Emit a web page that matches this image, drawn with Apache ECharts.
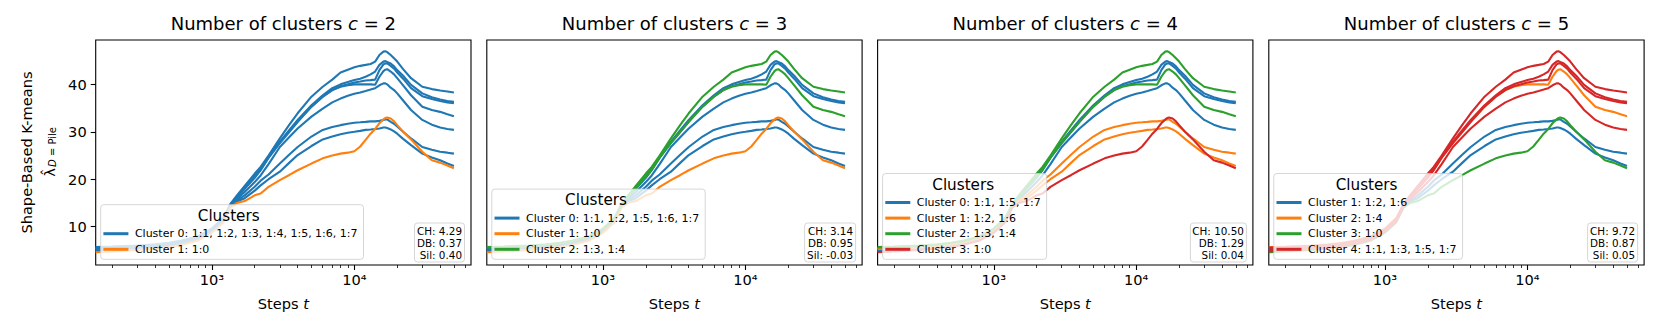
<!DOCTYPE html>
<html>
<head>
<meta charset="utf-8">
<script src="https://cdn.jsdelivr.net/npm/echarts@6/dist/echarts.min.js"></script>
<style>
html,body{margin:0;padding:0;background:#fff;}
#chart{width:1661px;height:332px;}
</style>
</head>
<body>
<div id="chart"></div>
<script>
// ---------------- data ----------------
const steps = [153, 200, 300, 400, 500, 600, 800, 1000, 1200, 1350,
  1500, 1700, 2000, 2200, 2500, 3000, 3500, 4000, 5000, 6000,
  7000, 8000, 9000, 10000, 11000, 12000, 13000, 14000, 15000, 16000,
  16500, 17000, 18000, 19000, 20000, 22000, 25000, 30000, 35000, 40000,
  45000, 50000];

const ratio_1_0 = [4.6, 4.8, 5.1, 5.4, 5.7, 6.1, 7.1, 8.7, 10.9, 14.0,
  15.0, 15.4, 16.6, 17.0, 18.4, 19.8, 20.9, 21.9, 23.3, 24.4,
  25.0, 25.4, 25.6, 25.9, 26.9, 28.3, 29.6, 30.6, 31.8, 32.6,
  32.9, 33.0, 32.8, 32.2, 31.4, 30.0, 28.4, 25.8, 24.0, 23.5,
  22.9, 22.3];
const ratio_1_1 = [4.8, 5.0, 5.3, 5.6, 6.0, 6.4, 7.4, 9.0, 11.2, 14.4,
  16.3, 18.3, 20.7, 22.2, 24.8, 27.9, 30.4, 32.5, 35.6, 37.7,
  39.2, 40.0, 40.5, 40.9, 41.2, 41.6, 42.1, 42.7, 44.1, 44.8,
  44.9, 44.7, 44.4, 43.8, 43.0, 41.8, 39.9, 38.1, 37.3, 36.8,
  36.5, 36.3];
const ratio_1_2 = [5.4, 5.5, 5.7, 6.0, 6.3, 6.7, 7.7, 9.3, 11.4, 14.4,
  15.5, 16.6, 18.4, 19.7, 21.0, 23.3, 25.2, 26.8, 29.0, 30.4,
  31.0, 31.4, 31.7, 31.9, 32.0, 32.1, 32.2, 32.2, 32.3, 32.5,
  32.6, 32.6, 32.1, 31.7, 31.1, 30.0, 28.6, 26.8, 26.2, 25.8,
  25.6, 25.4];
const ratio_1_3 = [5.6, 5.7, 5.9, 6.2, 6.5, 6.9, 7.9, 9.5, 11.7, 14.8,
  16.6, 18.6, 21.2, 22.6, 25.0, 28.6, 31.5, 33.9, 37.4, 39.5,
  41.0, 42.5, 43.1, 43.6, 43.9, 44.1, 44.3, 44.8, 46.2, 46.9,
  47.0, 46.8, 46.2, 45.5, 44.8, 43.2, 41.3, 39.5, 39.0, 38.7,
  38.5, 38.3];
const ratio_1_4 = [5.7, 5.8, 6.0, 6.3, 6.6, 7.0, 8.0, 9.6, 11.8, 14.7,
  16.2, 18.1, 20.5, 22.0, 24.6, 27.7, 30.1, 32.1, 35.3, 37.4,
  38.8, 39.5, 39.8, 40.0, 40.0, 40.0, 40.0, 39.9, 41.6, 42.8,
  43.1, 43.2, 42.7, 42.1, 41.3, 39.8, 37.7, 35.3, 34.6, 34.2,
  33.7, 33.3];
const ratio_1_5 = [5.2, 5.3, 5.5, 5.8, 6.1, 6.5, 7.5, 9.1, 11.3, 14.4,
  16.1, 18.0, 20.3, 21.9, 24.5, 27.6, 30.0, 32.1, 35.3, 37.4,
  38.8, 39.6, 40.0, 40.4, 40.6, 40.8, 40.9, 41.0, 43.0, 44.2,
  44.4, 44.4, 43.9, 43.3, 42.5, 41.2, 39.2, 37.5, 36.9, 36.5,
  36.2, 36.0];
const ratio_1_6 = [5.3, 5.4, 5.6, 5.9, 6.2, 6.6, 7.6, 9.2, 11.3, 14.3,
  15.3, 16.0, 17.6, 18.7, 20.0, 21.6, 23.5, 25.1, 27.0, 28.4,
  29.0, 29.5, 29.8, 30.0, 30.2, 30.4, 30.5, 30.6, 30.7, 30.9,
  30.9, 30.8, 30.5, 30.1, 29.6, 28.5, 27.2, 25.4, 24.6, 24.0,
  23.3, 22.8];
const ratio_1_7 = [5.0, 5.1, 5.3, 5.6, 5.9, 6.3, 7.3, 8.9, 11.1, 14.3,
  15.8, 17.3, 19.4, 20.8, 23.2, 26.8, 28.9, 30.7, 33.2, 34.9,
  36.2, 37.0, 37.6, 38.0, 38.3, 38.6, 38.9, 39.2, 39.8, 40.2,
  40.2, 40.0, 39.3, 38.8, 38.1, 36.6, 34.6, 32.5, 31.5, 30.9,
  30.6, 30.4];

const runs = {'1:0': ratio_1_0, '1:1': ratio_1_1, '1:2': ratio_1_2, '1:3': ratio_1_3,
  '1:4': ratio_1_4, '1:5': ratio_1_5, '1:6': ratio_1_6, '1:7': ratio_1_7};

const clusterCounts = [2, 3, 4, 5];
const clusterLabels = [
  ['Cluster 0: 1:1, 1:2, 1:3, 1:4, 1:5, 1:6, 1:7', 'Cluster 1: 1:0'],
  ['Cluster 0: 1:1, 1:2, 1:5, 1:6, 1:7', 'Cluster 1: 1:0', 'Cluster 2: 1:3, 1:4'],
  ['Cluster 0: 1:1, 1:5, 1:7', 'Cluster 1: 1:2, 1:6', 'Cluster 2: 1:3, 1:4', 'Cluster 3: 1:0'],
  ['Cluster 1: 1:2, 1:6', 'Cluster 2: 1:4', 'Cluster 3: 1:0', 'Cluster 4: 1:1, 1:3, 1:5, 1:7']
];
const clusterMembers = [
  [['1:1', '1:2', '1:3', '1:4', '1:5', '1:6', '1:7'], ['1:0']],
  [['1:1', '1:2', '1:5', '1:6', '1:7'], ['1:0'], ['1:3', '1:4']],
  [['1:1', '1:5', '1:7'], ['1:2', '1:6'], ['1:3', '1:4'], ['1:0']],
  [['1:2', '1:6'], ['1:4'], ['1:0'], ['1:1', '1:3', '1:5', '1:7']]
];
const statsText = [
  ['CH: 4.29', 'DB: 0.37', 'Sil: 0.40'],
  ['CH: 3.14', 'DB: 0.95', 'Sil: -0.03'],
  ['CH: 10.50', 'DB: 1.29', 'Sil: 0.04'],
  ['CH: 9.72', 'DB: 0.87', 'Sil: 0.05']
];
const xMajorTicks = [1000, 10000];
const xMinorTicks = [200, 300, 400, 500, 600, 700, 800, 900, 2000, 3000, 4000, 5000, 6000, 7000, 8000, 9000,
  20000, 30000, 40000, 50000, 60000];
const yTicks = [10, 20, 30, 40];

// ---------------- layout / style ----------------
const palette = ['#1f77b4', '#ff7f0e', '#2ca02c', '#d62728'];
const FONT = 'DejaVu Sans';
const X_MIN = 153, X_MAX = 65900;
const Y_MIN = 1.92, Y_MAX = 49.35;
const GRID_LEFT = [95.7, 486.8, 877.6, 1268.8];
const GRID_W = 375.3, GRID_T = 40, GRID_H = 225;
const SUP = {'0':'⁰','1':'¹','2':'²','3':'³','4':'⁴','5':'⁵','6':'⁶','7':'⁷','8':'⁸','9':'⁹'};
function logLabel(v) {
  const e = String(Math.round(Math.log10(v)));
  return '10' + e.split('').map(c => SUP[c]).join('');
}

const grid = [], xAxis = [], yAxis = [], series = [], title = [], legend = [], graphicEls = [];

for (let p = 0; p < 4; p++) {
  const left = GRID_LEFT[p];
  grid.push({left: left, top: GRID_T, width: GRID_W, height: GRID_H, show: true,
    borderColor: '#000', borderWidth: 1.1, backgroundColor: 'transparent'});

  xAxis.push({
    type: 'log', logBase: 10, gridIndex: p, min: X_MIN, max: X_MAX, position: 'bottom',
    axisLine: {show: false, onZero: false},
    splitLine: {show: false}, minorTick: {show: false}, minorSplitLine: {show: false},
    axisTick: {show: true, length: 5, lineStyle: {color: '#000', width: 1.1}, customValues: xMajorTicks},
    axisLabel: {show: true, customValues: xMajorTicks, formatter: logLabel, margin: 7,
      fontSize: 14.6, color: '#000', fontFamily: FONT},
    name: '{n|Steps }{i|t}', nameLocation: 'middle', nameGap: 31,
    nameTextStyle: {color: '#000', fontSize: 14.6, fontFamily: FONT,
      rich: {n: {fontSize: 14.6, fontFamily: FONT, color: '#000'},
             i: {fontSize: 14.6, fontFamily: FONT, fontStyle: 'italic', color: '#000'}}}
  });
  xAxis.push({
    type: 'log', logBase: 10, gridIndex: p, min: X_MIN, max: X_MAX, position: 'bottom',
    axisLine: {show: false, onZero: false}, axisLabel: {show: false},
    splitLine: {show: false}, minorTick: {show: false},
    axisTick: {show: true, length: 3, lineStyle: {color: '#000', width: 0.8}, customValues: xMinorTicks}
  });
  yAxis.push({
    type: 'value', gridIndex: p, min: Y_MIN, max: Y_MAX,
    axisLine: {show: false, onZero: false}, splitLine: {show: false},
    axisTick: {show: p === 0, length: 5, lineStyle: {color: '#000', width: 1.1}, customValues: yTicks},
    axisLabel: {show: p === 0, customValues: yTicks, margin: 9, fontSize: 14.6, color: '#000', fontFamily: FONT}
  });

  clusterMembers[p].forEach((members, k) => {
    members.forEach(m => {
      series.push({
        type: 'line', name: clusterLabels[p][k], xAxisIndex: 2 * p, yAxisIndex: p,
        data: steps.map((s, i) => [s, runs[m][i]]),
        showSymbol: false, symbol: 'none', silent: true, animation: false,
        lineStyle: {color: palette[k], width: 2.1}, itemStyle: {color: palette[k]},
        emphasis: {disabled: true}, z: 2
      });
    });
  });

  title.push({
    text: '{n|Number of clusters }{i|c}{n| = ' + clusterCounts[p] + '}',
    left: left + GRID_W / 2, textAlign: 'center', top: 12, padding: 0,
    textStyle: {fontWeight: 'normal', rich: {
      n: {fontSize: 18, fontFamily: FONT, fontWeight: 'normal', color: '#000', lineHeight: 22},
      i: {fontSize: 18, fontFamily: FONT, fontWeight: 'normal', fontStyle: 'italic', color: '#000', lineHeight: 22}}}
  });
  const textRight = left + GRID_W - 9;
  title.push({
    text: statsText[p].join('\n'), left: textRight - 2.5, textAlign: 'right', top: 222.5,
    padding: [2, 2.5, 2, 2.5], backgroundColor: 'rgba(255,255,255,0.8)',
    borderColor: 'rgba(204,204,204,0.8)', borderWidth: 1, borderRadius: 3,
    textStyle: {fontSize: 10.4, lineHeight: 12, fontWeight: 'normal', color: '#000', fontFamily: FONT}
  });

  const n = clusterLabels[p].length;
  legend.push({
    orient: 'vertical', left: left + 5, bottom: 72.7, selectedMode: false,
    data: clusterLabels[p].map((nm, k) => ({name: nm,
      itemStyle: {color: palette[k], borderColor: palette[k], borderWidth: 0}})),
    icon: 'rect', itemWidth: 25, itemHeight: 3, itemGap: 2.6,
    padding: [22.5, 6, 3.5, 2.7],
    backgroundColor: 'rgba(255,255,255,0.8)', borderColor: 'rgba(204,204,204,0.8)',
    borderWidth: 1, borderRadius: 3,
    textStyle: {fontSize: 11, lineHeight: 13, color: '#000', fontFamily: FONT, padding: [0, 0, 0, 1.5]}
  });
  const boxH = 22.5 + 3.5 + 13 * n + 2.6 * (n - 1);
  const boxTop = 259.3 - boxH;
  graphicEls.push({type: 'text', z: 100, x: [228.7, 596.0, 963.2, 1366.6][p], y: boxTop + 11,
    style: {text: 'Clusters', font: '15.2px "DejaVu Sans"', fill: '#000',
      textAlign: 'center', textVerticalAlign: 'middle'}});
}

graphicEls.push({type: 'text', z: 100, x: 26, y: 152.5, rotation: Math.PI / 2,
  style: {text: 'Shape-Based K-means', font: '14.6px "DejaVu Sans"', fill: '#000',
    textAlign: 'center', textVerticalAlign: 'middle'}});
graphicEls.push({type: 'text', z: 100, x: 49, y: 172.5, rotation: Math.PI / 2,
  style: {text: 'λ̂', font: '14.6px "DejaVu Sans"', fill: '#000',
    textAlign: 'center', textVerticalAlign: 'middle'}});
graphicEls.push({type: 'text', z: 100, x: 52.5, y: 147, rotation: Math.PI / 2,
  style: {text: '{i|D}{n| = Pile}', fill: '#000', textAlign: 'center', textVerticalAlign: 'middle',
    rich: {i: {fontSize: 10, fontFamily: FONT, fontStyle: 'italic', fill: '#000'},
           n: {fontSize: 10, fontFamily: FONT, fill: '#000'}}}});

const chart = echarts.init(document.getElementById('chart'), null, {renderer: 'svg', width: 1661, height: 332});
chart.setOption({
  animation: false,
  backgroundColor: '#fff',
  textStyle: {fontFamily: FONT},
  grid: grid, xAxis: xAxis, yAxis: yAxis, series: series,
  title: title, legend: legend, graphic: {elements: graphicEls}
});
</script>
</body>
</html>
